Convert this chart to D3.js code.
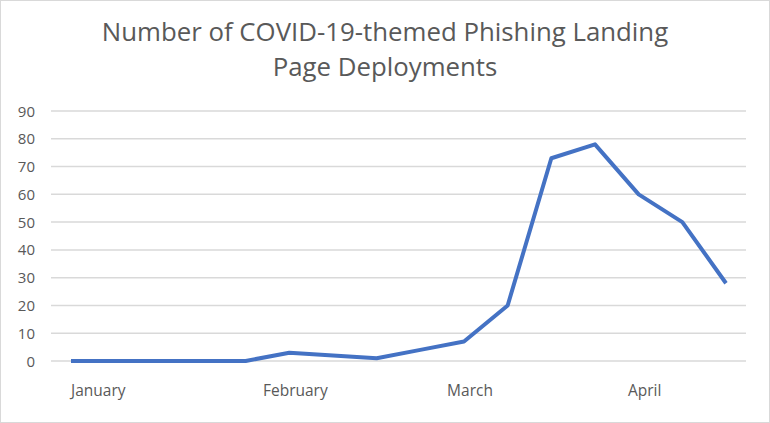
<!DOCTYPE html>
<html lang="en">
<head>
    <meta charset="UTF-8">
    <title>COVID-19 Phishing Landing Pages</title>
    <script src="https://d3js.org/d3.v7.min.js"></script>
    <style>
        body { margin: 0; background: #fff; }
        svg text { font-family: "Open Sans", sans-serif; fill: #595959; }
    </style>
</head>
<body>
    <svg width="770" height="423"></svg>

    <script>
        // weekly points, Jan to mid April
        const values = [0, 0, 0, 0, 0, 3, 2, 1, 4, 7, 20, 73, 78, 60, 50, 28];
        const monthLabels = ["January", "February", "March", "April"];
        const monthIndex = [0, 5, 9, 13];
        const yTicks = [0, 10, 20, 30, 40, 50, 60, 70, 80, 90];
        const titleLines = ["Number of COVID-19-themed Phishing Landing", "Page Deployments"];

        const width = 770, height = 423;
        const svg = d3.select("svg");

        // chart border
        svg.append("rect")
            .attr("x", 0.5).attr("y", 0.5)
            .attr("width", width - 1).attr("height", height - 1)
            .attr("fill", "none")
            .attr("stroke", "#d9d9d9");

        const x = d3.scaleLinear().domain([0, values.length - 1]).range([71, 726]);
        const y = d3.scaleLinear().domain([0, 90]).range([361, 111]);

        // title
        svg.append("text")
            .attr("text-anchor", "middle")
            .attr("font-size", 25.8)
            .selectAll("tspan")
            .data(titleLines)
            .enter().append("tspan")
            .attr("x", 385)
            .attr("y", (d, i) => 41 + i * 35)
            .text(d => d);

        // gridlines
        svg.append("g")
            .selectAll("line")
            .data(yTicks)
            .enter().append("line")
            .attr("x1", 51).attr("x2", 746)
            .attr("y1", d => y(d)).attr("y2", d => y(d))
            .attr("stroke", "#d9d9d9")
            .attr("stroke-width", 1.5);

        // y labels
        svg.append("g")
            .selectAll("text")
            .data(yTicks)
            .enter().append("text")
            .attr("x", 35)
            .attr("y", d => y(d) + 5.5)
            .attr("text-anchor", "end")
            .attr("font-size", 15)
            .text(d => d);

        // x labels (January sits to the right of its point)
        svg.append("g")
            .selectAll("text")
            .data(monthLabels)
            .enter().append("text")
            .attr("x", (d, i) => i === 0 ? x(monthIndex[i]) : x(monthIndex[i]) + 6)
            .attr("y", 396)
            .attr("text-anchor", (d, i) => i === 0 ? "start" : "middle")
            .attr("font-size", 15.5)
            .text(d => d);

        const line = d3.line()
            .x((d, i) => x(i))
            .y(d => y(d));

        svg.append("path")
            .datum(values)
            .attr("d", line)
            .attr("fill", "none")
            .attr("stroke", "#4472c4")
            .attr("stroke-width", 4)
            .attr("stroke-linejoin", "round");
    </script>
</body>
</html>
